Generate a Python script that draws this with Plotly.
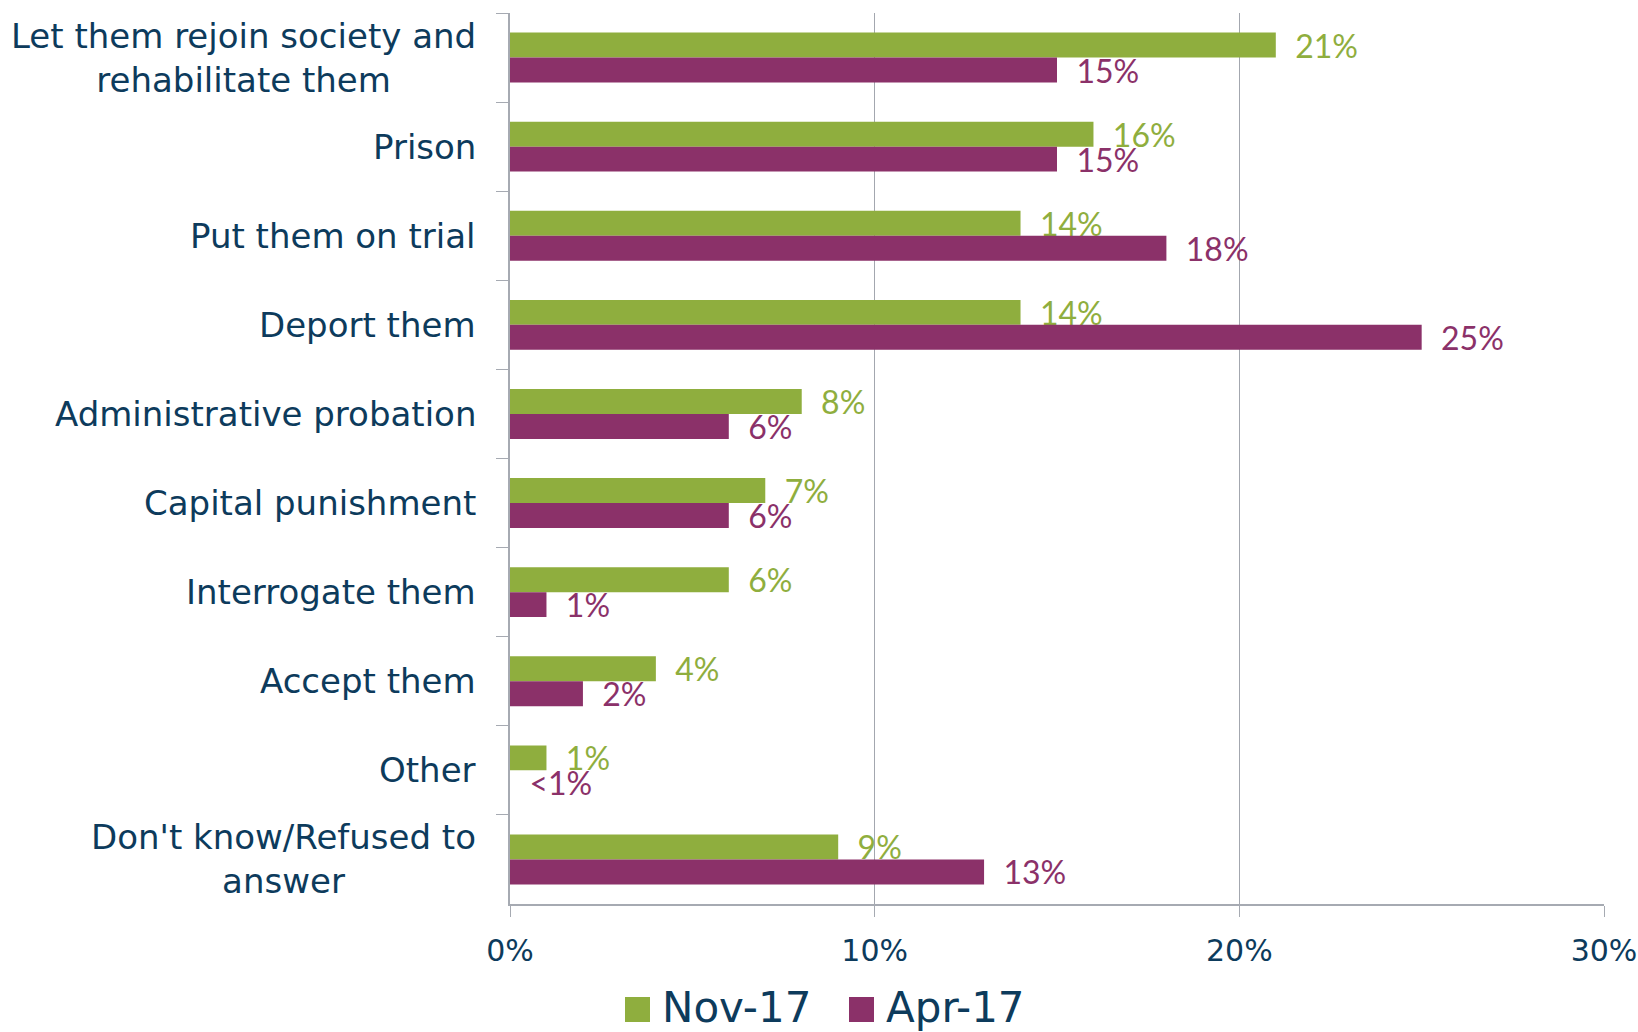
import plotly.graph_objects as go

# Survey responses: what should be done with returning fighters
categories = [
    "Let them rejoin society and<br>rehabilitate them",
    "Prison",
    "Put them on trial",
    "Deport them",
    "Administrative probation",
    "Capital punishment",
    "Interrogate them",
    "Accept them",
    "Other",
    "Don't know/Refused to<br>answer",
]
nov17 = [21, 16, 14, 14, 8, 7, 6, 4, 1, 9]
apr17 = [15, 15, 18, 25, 6, 6, 1, 2, 0, 13]
series_names = ["Nov-17", "Apr-17"]
x_ticks = [0, 10, 20, 30]
x_tick_labels = [f"{t}%" for t in x_ticks]

GREEN = "#8FAE3E"
PURPLE = "#8B3169"
TEXT = "#0D3B5C"
AXIS = "#A6AAB2"
GRID = "#A3A7AF"

W, H = 1638, 1032
ML, MR, MT, MB = 510, 34, 13, 128
PW, PH = W - ML - MR, H - MT - MB


def px_x(px):
    return (px - ML) / PW


def px_y(py):
    return (H - MB - py) / PH


def label(v):
    return "&nbsp;&nbsp;" + ("<1%" if v < 1 else f"{v}%")


LABEL_FONT = "Liberation Sans Narrow, Lato, sans-serif"

fig = go.Figure()
for name, vals, color in [(series_names[0], nov17, GREEN), (series_names[1], apr17, PURPLE)]:
    fig.add_trace(go.Bar(
        y=categories, x=vals, orientation="h", name=name,
        marker=dict(color=color, line=dict(width=0)),
        text=[label(v) for v in vals], textposition="outside",
        textfont=dict(family=LABEL_FONT, size=32, color=color),
        constraintext="none", cliponaxis=False, showlegend=False,
    ))

# category labels, centred line-by-line and right-aligned to the axis
for c in categories:
    fig.add_annotation(
        x=px_x(478), xref="paper", y=c, yref="y",
        text=c, showarrow=False, xanchor="right", yanchor="middle", align="center",
        font=dict(family="DejaVu Sans", size=34, color=TEXT),
    )

# legend drawn as swatches plus text
legend_items = [(series_names[0], GREEN, 625), (series_names[1], PURPLE, 849)]
for name, color, x0 in legend_items:
    fig.add_shape(type="rect", xref="paper", yref="paper",
                  x0=px_x(x0), x1=px_x(x0 + 25), y0=px_y(1022), y1=px_y(997),
                  fillcolor=color, line=dict(width=0))
    fig.add_annotation(x=px_x(x0 + 35), xref="paper", y=px_y(1008), yref="paper",
                       text=name, showarrow=False, xanchor="left", yanchor="middle",
                       font=dict(family="DejaVu Sans", size=42, color=TEXT))

fig.update_layout(
    width=W, height=H,
    margin=dict(l=ML, r=MR, t=MT, b=MB, autoexpand=False),
    paper_bgcolor="white", plot_bgcolor="white",
    barmode="group", bargap=0.44, bargroupgap=0,
    xaxis=dict(
        range=[0, 30], tickmode="array", tickvals=x_ticks, ticktext=x_tick_labels,
        showgrid=True, gridcolor=GRID, gridwidth=1,
        showline=True, linecolor=AXIS, linewidth=2,
        ticks="outside", ticklen=11, tickcolor=AXIS, tickwidth=1,
        zeroline=False, ticklabelstandoff=8, ticklabeloverflow="allow",
        automargin=False,
        tickfont=dict(family="DejaVu Sans", size=30, color=TEXT),
    ),
    yaxis=dict(
        type="category", autorange="reversed", automargin=False,
        tickson="boundaries", ticks="outside", ticklen=12, tickcolor=AXIS, tickwidth=1,
        showline=True, linecolor=AXIS, linewidth=1.5,
        showgrid=False, showticklabels=False, zeroline=False,
    ),
)

fig.write_html("out.html")
